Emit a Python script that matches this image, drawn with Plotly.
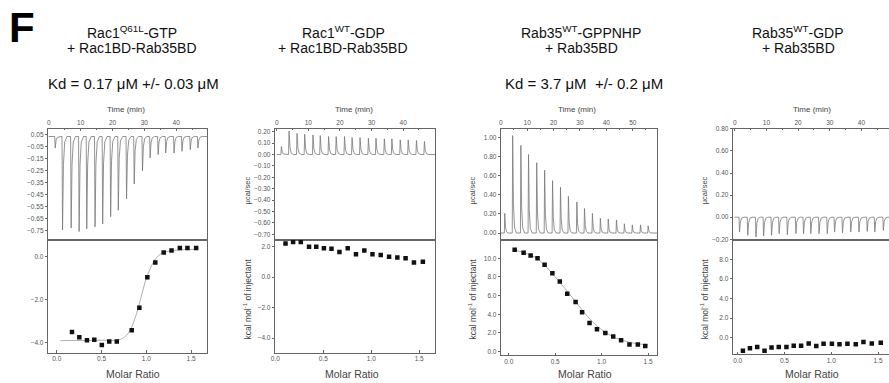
import plotly.graph_objects as go

W, H = 889, 383
FONT = "Arial, Liberation Sans, sans-serif"

# ---------------- data ----------------
# Panel 1: Rac1 Q61L-GTP + Rac1BD-Rab35BD
p1_inj_time = [1.9, 4.2, 6.9, 9.4, 11.8, 14.4, 16.8, 19.3, 21.7, 24.3, 26.7, 29.3, 31.7, 34.2, 36.6, 39.2, 41.7, 44.3, 46.7]
p1_inj_peak = [-0.062, -0.742, -0.726, -0.756, -0.734, -0.717, -0.693, -0.633, -0.579, -0.483, -0.361, -0.252,
               -0.143, -0.116, -0.103, -0.103, -0.089, -0.075, -0.062]
p1_base = 0.034
p1_ratio = [0.17, 0.252, 0.337, 0.419, 0.503, 0.586, 0.67, 0.837, 0.922, 1.011, 1.1, 1.194, 1.281, 1.374, 1.459, 1.556]
p1_heat = [-3.5, -3.74, -3.88, -3.86, -4.10, -3.94, -3.94, -3.42, -2.38, -0.97, -0.29, 0.18, 0.27, 0.39, 0.39, 0.39]
p1_fit_x = [0.041, 0.5, 0.707, 0.8, 0.874, 0.937, 0.986, 1.041, 1.114, 1.208, 1.559]
p1_fit_y = [-3.9, -3.88, -3.85, -3.55, -2.86, -1.95, -1.2, -0.59, -0.06, 0.2, 0.32]

# Panel 2: Rac1 WT-GDP + Rac1BD-Rab35BD
p2_inj_time = [1.35, 3.78, 6.3, 8.72, 11.34, 13.64, 16.28, 18.68, 21.32, 23.72, 26.24, 28.88, 31.28, 33.92,
               36.31, 38.96, 41.48, 44.09, 46.61]
p2_inj_peak = [0.07, 0.207, 0.186, 0.178, 0.172, 0.166, 0.158, 0.158, 0.158, 0.149, 0.149, 0.143, 0.143,
               0.138, 0.138, 0.129, 0.129, 0.123, 0.115]
p2_base = 0.0
p2_ratio = [0.107, 0.186, 0.266, 0.352, 0.427, 0.507, 0.586, 0.669, 0.755, 0.841, 0.928, 1.013, 1.099,
            1.186, 1.272, 1.358, 1.445, 1.538]
p2_heat = [2.21, 2.32, 2.32, 2.0, 2.0, 1.91, 1.87, 1.65, 1.91, 1.50, 1.76, 1.50, 1.46, 1.35, 1.29, 1.25, 0.97, 1.01]

# Panel 3: Rab35 WT-GPPNHP + Rab35BD
p3_inj_time = [1.4, 4.4, 7.5, 10.4, 13.5, 16.5, 19.5, 22.5, 25.5, 28.7, 31.6, 34.6, 37.6, 40.6, 43.7, 46.7,
               49.7, 52.8, 55.7]
p3_inj_peak = [0.205, 1.018, 0.915, 0.82, 0.734, 0.656, 0.547, 0.478, 0.383, 0.325, 0.256, 0.205, 0.154,
               0.147, 0.137, 0.096, 0.085, 0.085, 0.075]
p3_base = 0.0
p3_ratio = [0.064, 0.16, 0.236, 0.31, 0.386, 0.47, 0.55, 0.63, 0.72, 0.79, 0.87, 0.95, 1.04, 1.125, 1.21,
            1.30, 1.39, 1.47]
p3_heat = [10.9, 10.6, 10.3, 10.0, 9.3, 8.4, 7.5, 6.2, 5.3, 4.2, 3.05, 2.4, 2.0, 1.6, 1.2, 0.75, 0.75, 0.6]
p3_fit_x = [0.06, 0.3, 0.5, 0.7, 0.9, 1.1, 1.3, 1.5]
p3_fit_y = [10.9, 10.0, 8.0, 5.6, 3.2, 1.7, 1.0, 0.7]

# Panel 4: Rab35 WT-GDP + Rab35BD
p4_inj_time = [1.4, 4.0, 6.6, 9.0, 11.5, 13.9, 16.5, 19.2, 21.6, 23.9, 26.5, 29.1, 31.4, 33.9, 36.5, 39.1,
               41.7, 44.1, 46.8]
p4_inj_peak = [-0.135, -0.164, -0.179, -0.17, -0.164, -0.149, -0.158, -0.149, -0.149, -0.149, -0.149, -0.149,
               -0.135, -0.141, -0.135, -0.135, -0.129, -0.135, -0.12]
p4_base = 0.0
p4_ratio = [0.056, 0.131, 0.209, 0.287, 0.362, 0.439, 0.521, 0.599, 0.678, 0.759, 0.840, 0.918, 1.007, 1.088,
            1.173, 1.262, 1.344, 1.433, 1.529]
p4_heat = [-1.33, -1.07, -0.93, -1.33, -1.0, -0.93, -0.93, -0.8, -0.8, -0.57, -0.83, -0.6, -0.6, -0.67, -0.6,
           -0.67, -0.43, -0.57, -0.5]

titles_line1 = ["Rac1<sup>Q61L</sup>-GTP", "Rac1<sup>WT</sup>-GDP", "Rab35<sup>WT</sup>-GPPNHP", "Rab35<sup>WT</sup>-GDP"]
titles_line2 = ["+ Rac1BD-Rab35BD", "+ Rac1BD-Rab35BD", "+ Rab35BD", "+ Rab35BD"]
kd_texts = ["Kd = 0.17 \u03bcM +/- 0.03 \u03bcM", None, "Kd = 3.7 \u03bcM  +/- 0.2 \u03bcM", None]

time_ticks = [[0, 10, 20, 30, 40], [0, 10, 20, 30, 40], [0, 10, 20, 30, 40, 50], [0, 10, 20, 30, 40]]
ratio_ticks = [0.0, 0.5, 1.0, 1.5]
top_yticks = [[0.05, -0.05, -0.15, -0.25, -0.35, -0.45, -0.55, -0.65, -0.75],
              [0.20, 0.10, 0.00, -0.10, -0.20, -0.30, -0.40, -0.50, -0.60, -0.70],
              [0.0, 0.2, 0.4, 0.6, 0.8, 1.0],
              [-0.2, 0.0, 0.2, 0.4, 0.6, 0.8]]
bot_yticks = [[0.0, -2.0, -4.0], [2.0, 0.0, -2.0, -4.0], [0, 2, 4, 6, 8, 10], [0, 2, 4, 6, 8]]

# ---------------- layout geometry (pixels) ----------------
panel_x = [(44, 204), (272, 433), (499, 656), (732, 889)]
top_y0, split_y = 127, 240
bottom_y1 = [355, 355, 358, 357]
time_range = [[-0.31, 49.7], [-0.63, 50.1], [0, 59.2], [-0.63, 48.7]]
ratio_range = [[-0.1, 1.678], [-0.005, 1.665], [-0.086, 1.597], [-0.053, 1.617]]
top_range = [[-0.823, 0.099], [-0.747, 0.227], [-0.069, 1.09], [-0.203, 0.802]]
bot_range = [[-4.45, 0.773], [-4.95, 2.47], [-0.42, 12.0], [-1.7, 10.0]]


def thermogram(times, peaks, base):
    xs, ys = [0.0], [base]
    for t, p in zip(times, peaks):
        d = p - base
        xs += [t - 0.05, t + 0.12, t + 0.4, t + 0.8, t + 1.5]
        ys += [base, p, base + 0.3 * d, base + 0.06 * d, base]
    xs.append(60)
    ys.append(base)
    return xs, ys


panels = [
    (p1_inj_time, p1_inj_peak, p1_base, p1_ratio, p1_heat, (p1_fit_x, p1_fit_y)),
    (p2_inj_time, p2_inj_peak, p2_base, p2_ratio, p2_heat, None),
    (p3_inj_time, p3_inj_peak, p3_base, p3_ratio, p3_heat, (p3_fit_x, p3_fit_y)),
    (p4_inj_time, p4_inj_peak, p4_base, p4_ratio, p4_heat, None),
]

fig = go.Figure()
layout = {}
annotations = []
tickfont = dict(family=FONT, size=6.5, color="#555")
linecol = "#666"


def note(text, px, py, size, color="#444", angle=0):
    return dict(text=text, x=px / W, y=1 - py / H, xref="paper", yref="paper", xanchor="center",
                yanchor="middle", showarrow=False, textangle=angle,
                font=dict(family=FONT, size=size, color=color))


for i, (tt, pk, bs, rx, hy, fit) in enumerate(panels):
    nt, nb = 2 * i + 1, 2 * i + 2
    xt, yt = f"x{nt}", f"y{nt}"
    xb, yb = f"x{nb}", f"y{nb}"
    tx, ty = thermogram(tt, pk, bs)
    fig.add_trace(go.Scatter(x=tx, y=ty, mode="lines", line=dict(color="#777", width=0.8),
                             xaxis=xt, yaxis=yt, showlegend=False, hoverinfo="skip"))
    if fit is not None:
        fig.add_trace(go.Scatter(x=fit[0], y=fit[1], mode="lines", line=dict(color="#999", width=0.8, shape="spline"),
                                 xaxis=xb, yaxis=yb, showlegend=False, hoverinfo="skip"))
    fig.add_trace(go.Scatter(x=rx, y=hy, mode="markers",
                             marker=dict(symbol="square", size=4.5, color="#111"),
                             xaxis=xb, yaxis=yb, showlegend=False))

    x0, x1 = panel_x[i]
    xdom = [x0 / W, x1 / W]
    ydom_top = [1 - split_y / H, 1 - top_y0 / H]
    ydom_bot = [1 - bottom_y1[i] / H, 1 - split_y / H]
    last = (i == 3)
    k = "" if nt == 1 else str(nt)
    layout[f"xaxis{k}"] = dict(domain=xdom, anchor=yt, side="top", range=time_range[i],
                               tickvals=time_ticks[i], ticks="inside", ticklen=2.5, tickcolor=linecol,
                               showline=True, linecolor=linecol, linewidth=1, mirror=True,
                               showgrid=False, zeroline=False, tickfont=tickfont,
                               minor=dict(ticks="inside", ticklen=1.5, dtick=5, tickcolor=linecol))
    layout[f"yaxis{k}"] = dict(domain=ydom_top, anchor=xt, range=top_range[i], tickvals=top_yticks[i],
                               tickformat=".2f", ticks="outside", ticklen=2, tickcolor=linecol,
                               showline=True, linecolor=linecol, linewidth=1, mirror=(not last),
                               showgrid=False, zeroline=False, tickfont=tickfont)
    layout[f"xaxis{nb}"] = dict(domain=xdom, anchor=yb, side="bottom", range=ratio_range[i],
                                tickvals=ratio_ticks, tickformat=".1f", ticks="inside", ticklen=2.5,
                                tickcolor=linecol, showline=True, linecolor=linecol, linewidth=1, mirror=True,
                                showgrid=False, zeroline=False, tickfont=tickfont)
    layout[f"yaxis{nb}"] = dict(domain=ydom_bot, anchor=xb, range=bot_range[i], tickvals=bot_yticks[i],
                                tickformat=".1f", ticks="outside", ticklen=2, tickcolor=linecol,
                                showline=True, linecolor=linecol, linewidth=1, mirror=(not last),
                                showgrid=False, zeroline=False, tickfont=tickfont)

    annotations.append(note("Time (min)", [123, 352, 576, 812][i], 107, 8))
    annotations.append(note("Molar Ratio", [130, 350, 584, 812][i], 377, 10.5))
    if i > 0:
        ax = [None, 245, 471, 704][i]
        annotations.append(note("\u03bccal/sec", ax, 190, 7.5, angle=-90))
        annotations.append(note("kcal mol<sup>-1</sup> of injectant", ax, 300, 8.5, angle=-90))
    tc = [129, 341, 580, 798][i]
    annotations.append(note(titles_line1[i], tc, 29, 14, "#111"))
    annotations.append(note(titles_line2[i], tc, 45, 14, "#111"))
    if kd_texts[i]:
        annotations.append(note(kd_texts[i], [130, None, 583, None][i], 81, 15, "#111"))

annotations.append(note("<b>F</b>", 18.5, 24, 42, "#000"))

fig.update_layout(width=W, height=H, margin=dict(l=0, r=0, t=0, b=0),
                  paper_bgcolor="white", plot_bgcolor="white", annotations=annotations, **layout)

fig.write_html("out.html", config={"displayModeBar": False},
               post_script="document.body.style.margin='0px';")
